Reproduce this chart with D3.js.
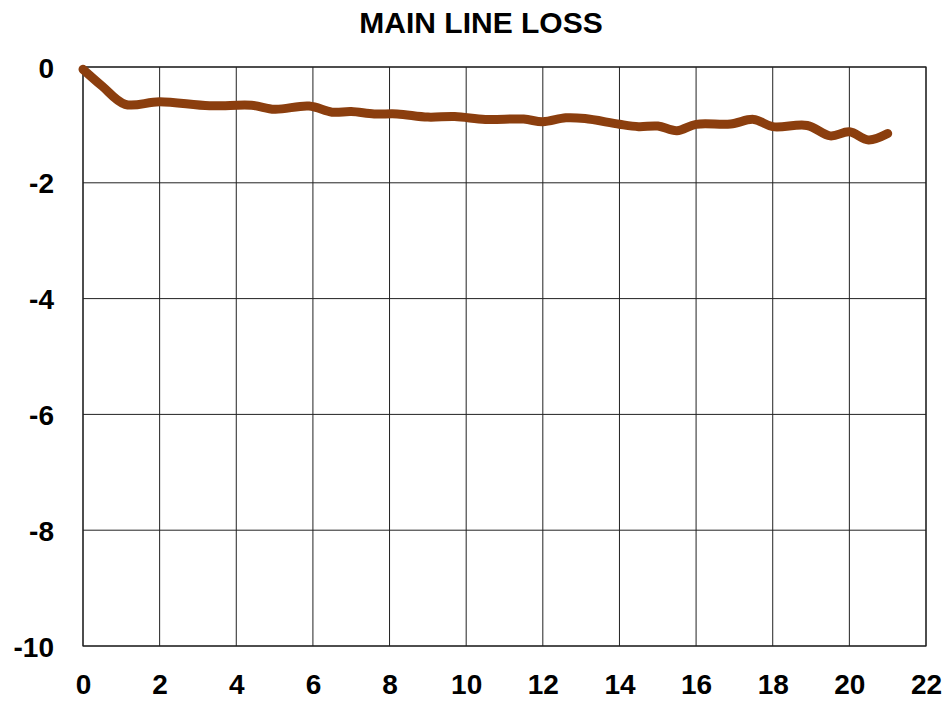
<!DOCTYPE html>
<html>
<head>
<meta charset="utf-8">
<script src="https://cdn.jsdelivr.net/npm/d3@7"></script>
<style>
  html, body { margin: 0; padding: 0; background: #fff; }
  svg { display: block; }
  text { font-family: "Liberation Sans", Arial, sans-serif; font-weight: bold; fill: #000; }
</style>
</head>
<body>
<svg id="chart" width="950" height="702"></svg>
<script>
const title = "MAIN LINE LOSS";
const xValues = [0, 0.5, 1.1, 2.0, 3.3, 4.4, 5.0, 5.9, 6.5, 7.0, 7.6, 8.2, 9.0, 9.7, 10.5, 11.5, 12.0, 12.6, 13.1, 14.0, 14.5, 15.0, 15.5, 16.0, 16.9, 17.5, 18.0, 18.9, 19.5, 20.0, 20.5, 21.0];
const yValues = [-0.04, -0.33, -0.645, -0.60, -0.67, -0.66, -0.73, -0.675, -0.78, -0.77, -0.81, -0.81, -0.865, -0.855, -0.905, -0.90, -0.946, -0.877, -0.89, -0.99, -1.03, -1.02, -1.10, -0.99, -0.985, -0.905, -1.03, -1.01, -1.19, -1.12, -1.26, -1.15];
const xTicks = [0, 2, 4, 6, 8, 10, 12, 14, 16, 18, 20, 22];
const yTicks = [0, -2, -4, -6, -8, -10];

(function () {
const svg = d3.select("#chart");
const mLeft = 83, mRight = 926, mTop = 67, mBottom = 646;

const x = d3.scaleLinear().domain([0, 22]).range([mLeft, mRight]);
const y = d3.scaleLinear().domain([-10, 0]).range([mBottom, mTop]);

// grid
const grid = svg.append("g");
grid.selectAll(".vg").data(xTicks).enter().append("line")
  .attr("x1", d => x(d)).attr("x2", d => x(d))
  .attr("y1", mTop).attr("y2", mBottom)
  .attr("stroke", "#222").attr("stroke-width", 1);
grid.selectAll(".hg").data(yTicks).enter().append("line")
  .attr("x1", mLeft).attr("x2", mRight)
  .attr("y1", d => y(d)).attr("y2", d => y(d))
  .attr("stroke", "#222").attr("stroke-width", 1);
svg.append("rect").attr("x", mLeft).attr("y", mTop)
  .attr("width", mRight - mLeft).attr("height", mBottom - mTop)
  .attr("fill", "none").attr("stroke", "#222").attr("stroke-width", 1.2);

const fmt = d => String(d);

const xAxis = d3.axisBottom(x).tickValues(xTicks).tickSize(0).tickPadding(0).tickFormat(fmt);
const gx = svg.append("g").attr("transform", `translate(0,${mBottom})`).call(xAxis);
gx.select(".domain").remove();
gx.selectAll("text").attr("dy", null).attr("y", 48)
  .style("font-size", "28px").style("font-family", "'Liberation Sans', Arial, sans-serif")
  .style("font-weight", "bold").attr("fill", "#000");

const yAxis = d3.axisLeft(y).tickValues(yTicks).tickSize(0).tickPadding(0).tickFormat(fmt);
const gy = svg.append("g").attr("transform", `translate(${mLeft},0)`).call(yAxis);
gy.select(".domain").remove();
gy.selectAll("text").attr("x", -29).attr("dy", "0.36em")
  .style("font-size", "28px").style("font-family", "'Liberation Sans', Arial, sans-serif")
  .style("font-weight", "bold").attr("fill", "#000");

// line
const data = xValues.map((v, i) => [v, yValues[i]]);
const line = d3.line().x(d => x(d[0])).y(d => y(d[1])).curve(d3.curveCatmullRom.alpha(0.5));
svg.append("path").datum(data).attr("d", line)
  .attr("fill", "none").attr("stroke", "#8B3E0E").attr("stroke-width", 9)
  .attr("stroke-linecap", "round").attr("stroke-linejoin", "round");

// title
svg.append("text").attr("x", 481).attr("y", 33).attr("text-anchor", "middle")
  .style("font-size", "30px").text(title);
})();
</script>
</body>
</html>
